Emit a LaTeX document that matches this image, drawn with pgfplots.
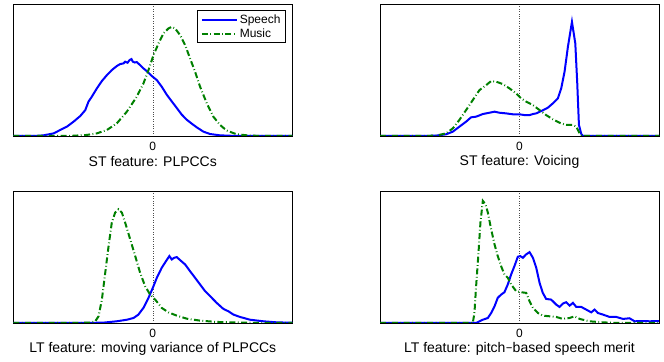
\documentclass[border=0pt]{standalone}
\usepackage{fontspec}
\setmainfont{Liberation Sans}
\usepackage{pgfplots}
\pgfplotsset{compat=1.18}
\definecolor{mblue}{RGB}{0,0,255}
\definecolor{mgreen}{RGB}{0,128,0}
\pgfplotsset{
  panel/.style={
    scale only axis, width=279bp, height=131.5bp,
    xmin=-1, xmax=1, ymin=0, ymax=1,
    xtick={0}, ytick=\empty, major tick length=0pt,
    xmajorgrids=true,
    major grid style={dotted, black!70, line width=0.6bp},
    axis line style={line width=0.8bp},
    /pgf/number format/assume math mode=true,
    tick label style={font=\fontsize{12bp}{14bp}\selectfont},
    xticklabel style={yshift=-2.5bp},
    every axis x label/.style={at={(axis description cs:0.5,0)}, anchor=center, yshift=-26bp,
      font=\fontsize{14bp}{16bp}\selectfont},
  },
  sp/.style={mblue, line width=2bp},
  mu/.style={mgreen, line width=2bp, dash pattern=on 6bp off 2.5bp on 0.8bp off 2.5bp},
}
\begin{document}
\begin{tikzpicture}
\useasboundingbox (0,0) rectangle (664bp,362bp);
% Panel 1
\begin{axis}[panel, at={(13.3bp,226bp)}, anchor=south west,
  xlabel={ST feature: PLPCCs},
  legend style={at={(rel axis cs:0.977,0.958)}, anchor=north east, draw=black, line width=0.8bp,
    font=\fontsize{12bp}{14bp}\selectfont, row sep=0bp, inner xsep=3bp, inner ysep=2bp},
  legend cell align=left,
  legend image code/.code={\draw[#1] (0bp,0bp) -- (35bp,0bp);},
]
\addplot[sp] coordinates {(-1,0) (-0.85,0) (-0.783,0.005) (-0.711,0.020) (-0.663,0.046) (-0.616,0.071) (-0.568,0.109) (-0.520,0.152) (-0.484,0.197) (-0.461,0.261) (-0.437,0.299) (-0.401,0.362) (-0.365,0.418) (-0.329,0.463) (-0.294,0.501) (-0.258,0.532) (-0.234,0.547) (-0.210,0.552) (-0.198,0.565) (-0.181,0.557) (-0.167,0.577) (-0.153,0.585) (-0.143,0.565) (-0.129,0.559) (-0.115,0.562) (-0.091,0.539) (-0.067,0.514) (-0.038,0.489) (-0.007,0.456) (0.029,0.425) (0.064,0.375) (0.100,0.314) (0.136,0.263) (0.172,0.213) (0.208,0.162) (0.243,0.124) (0.279,0.094) (0.315,0.066) (0.363,0.033) (0.411,0.015) (0.482,0.005) (0.601,0) (1,0)};
\addlegendentry{Speech}
\addplot[mu] coordinates {(-1,0) (-0.60,0) (-0.473,0.008) (-0.401,0.020) (-0.329,0.046) (-0.258,0.096) (-0.186,0.185) (-0.115,0.299) (-0.067,0.400) (-0.031,0.501) (0.005,0.615) (0.041,0.704) (0.076,0.780) (0.112,0.818) (0.136,0.830) (0.160,0.818) (0.196,0.767) (0.232,0.691) (0.267,0.590) (0.303,0.489) (0.339,0.375) (0.387,0.248) (0.434,0.147) (0.482,0.084) (0.530,0.041) (0.601,0.013) (0.697,0.003) (0.80,0) (1,0)};
\addlegendentry{Music}
\end{axis}
% Panel 2
\begin{axis}[panel, at={(380bp,226bp)}, anchor=south west, xlabel={ST feature: Voicing}]
\addplot[sp] coordinates {(-1,0) (-0.70,0) (-0.598,0.003) (-0.526,0.013) (-0.478,0.033) (-0.431,0.071) (-0.383,0.109) (-0.347,0.142) (-0.311,0.147) (-0.263,0.167) (-0.215,0.177) (-0.179,0.185) (-0.144,0.177) (-0.096,0.172) (-0.048,0.165) (0,0.165) (0.036,0.159) (0.072,0.159) (0.096,0.167) (0.120,0.172) (0.156,0.190) (0.203,0.215) (0.239,0.248) (0.275,0.286) (0.299,0.362) (0.323,0.489) (0.347,0.678) (0.376,0.868) (0.400,0.704) (0.414,0.400) (0.426,0.084) (0.443,0.015) (0.455,0) (1,0)};
\addplot[mu] coordinates {(-1,0) (-0.70,0) (-0.598,0.003) (-0.526,0.020) (-0.478,0.058) (-0.431,0.122) (-0.383,0.197) (-0.335,0.273) (-0.287,0.349) (-0.239,0.387) (-0.203,0.418) (-0.167,0.413) (-0.120,0.395) (-0.072,0.362) (-0.024,0.324) (0.012,0.286) (0.048,0.261) (0.096,0.235) (0.144,0.197) (0.191,0.159) (0.239,0.127) (0.287,0.101) (0.335,0.084) (0.383,0.084) (0.407,0.071) (0.431,0.020) (0.450,0) (1,0)};
\end{axis}
% Panel 3
\begin{axis}[panel, at={(13.3bp,39bp)}, anchor=south west, xlabel={LT feature: moving variance of PLPCCs}]
\addplot[sp] coordinates {(-1,0) (-0.50,0) (-0.353,0.003) (-0.258,0.013) (-0.186,0.025) (-0.138,0.038) (-0.103,0.064) (-0.067,0.115) (-0.031,0.191) (0,0.267) (0.029,0.344) (0.064,0.420) (0.095,0.471) (0.119,0.509) (0.136,0.483) (0.153,0.496) (0.172,0.501) (0.196,0.478) (0.232,0.445) (0.267,0.394) (0.303,0.344) (0.339,0.293) (0.375,0.242) (0.411,0.204) (0.458,0.153) (0.506,0.107) (0.542,0.089) (0.578,0.064) (0.625,0.046) (0.697,0.025) (0.792,0.013) (0.888,0.005) (1,0.002)};
\addplot[mu] coordinates {(-1,0) (-0.60,0) (-0.449,0.003) (-0.413,0.013) (-0.389,0.051) (-0.365,0.178) (-0.341,0.382) (-0.317,0.585) (-0.294,0.763) (-0.270,0.840) (-0.246,0.865) (-0.222,0.840) (-0.198,0.763) (-0.162,0.636) (-0.126,0.509) (-0.091,0.382) (-0.055,0.280) (-0.019,0.216) (0.017,0.178) (0.064,0.115) (0.112,0.081) (0.172,0.056) (0.243,0.033) (0.339,0.018) (0.458,0.008) (0.649,0.003) (0.80,0) (1,0)};
\end{axis}
% Panel 4
\begin{axis}[panel, at={(380bp,39bp)}, anchor=south west, xlabel={LT feature: pitch\texttt{-}based speech merit}]
\addplot[sp] coordinates {(-1,0) (-0.311,0) (-0.287,0.013) (-0.263,0.025) (-0.227,0.038) (-0.203,0.076) (-0.179,0.127) (-0.156,0.191) (-0.132,0.216) (-0.108,0.234) (-0.084,0.293) (-0.060,0.369) (-0.036,0.433) (-0.012,0.504) (0.005,0.509) (0.024,0.496) (0.048,0.522) (0.072,0.539) (0.096,0.496) (0.120,0.420) (0.144,0.305) (0.167,0.229) (0.191,0.183) (0.227,0.178) (0.263,0.140) (0.287,0.122) (0.311,0.148) (0.335,0.158) (0.359,0.132) (0.383,0.153) (0.407,0.122) (0.443,0.122) (0.478,0.102) (0.514,0.081) (0.538,0.102) (0.562,0.076) (0.598,0.064) (0.646,0.046) (0.694,0.046) (0.742,0.031) (0.789,0.036) (0.825,0.013) (0.885,0.015) (0.933,0.013) (1,0.015)};
\addplot[mu] coordinates {(-1,0) (-0.335,0) (-0.323,0.076) (-0.311,0.280) (-0.294,0.534) (-0.280,0.763) (-0.263,0.929) (-0.244,0.903) (-0.227,0.840) (-0.203,0.712) (-0.179,0.598) (-0.156,0.509) (-0.132,0.433) (-0.108,0.369) (-0.084,0.344) (-0.060,0.293) (-0.024,0.242) (0.012,0.234) (0.048,0.229) (0.072,0.165) (0.096,0.115) (0.132,0.076) (0.167,0.056) (0.215,0.051) (0.263,0.046) (0.311,0.031) (0.359,0.038) (0.395,0.051) (0.431,0.031) (0.502,0.013) (0.598,0.005) (0.70,0) (1,0)};
\end{axis}
\end{tikzpicture}
\end{document}
